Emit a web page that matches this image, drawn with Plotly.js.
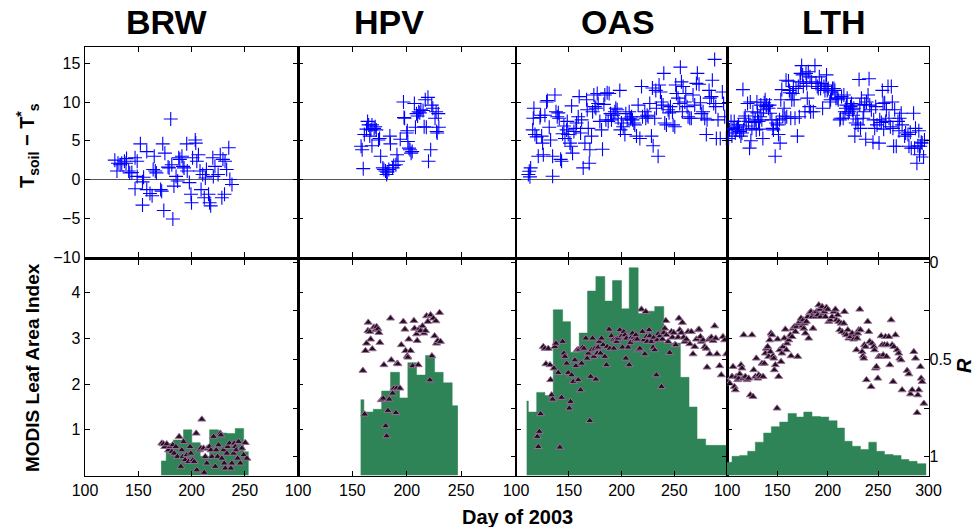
<!DOCTYPE html>
<html><head><meta charset="utf-8">
<script src="https://cdn.plot.ly/plotly-3.0.1.min.js"></script>
<style>html,body{margin:0;padding:0;background:#fff}#chart{width:976px;height:527px}</style>
</head><body><div id="chart"></div><script>
const sites = ['BRW','HPV','OAS','LTH'];

// ---- Top row: T_soil - T*_s ----
const brwTsDay = [128,131,133,134.5,137,138.5,130,139,141,142,144,147,149,147,149,152,154,154,155,158,158,161,163,164,165,166,167,171,172,173,174,175,178,179,180.5,181.5,182.5,183.5,185.5,187,188,189,191,192,193,195.5,196,198,199.5,200,201,203.5,204,205,206.5,208,209,210.5,212,213,214,216,217,218,220,220.5,222,225,227,228.5,229.5,231,231.5,233,235,236,238];
const brwTs = [2.5,2.1,1.9,2.1,2.35,2.1,1.1,2.7,1.1,0.85,0.9,2.8,2.35,-1.2,0.4,4.6,-0.3,-3.3,0.3,3.6,-1.3,-1.8,-2.1,1.3,3.0,1.1,0.85,-1.3,-1.5,4.6,-4.0,3.4,1.6,1.5,7.8,1.9,-5.1,-0.85,0.4,-0.2,2.8,2.6,3.0,1.7,1.5,4.6,1.1,-0.4,-1.9,-3.0,2.8,5.1,4.7,2.35,3.2,1.1,-1.3,0.65,-2.35,0.2,1.3,-1.9,-3.0,-3.4,2.8,0.4,1.7,0.65,3.2,-2.35,2.6,-1.9,2.35,1.3,4.1,0,-0.65];

const hpvTsDay = [160,158,159,161,163,164,165,166,167,168,170,171,172,168,174,175,176,178,179,180.5,181.5,182,183.5,184.5,185,187,188,190,191,192,194,197,197.5,198,200,200.5,201,202,203,204,205,207,208,209,210,211,212,213,215,216,217,218,219.5,220,222,223,224,226,227,227.5,228,229,229.5];
const hpvTs = [1.4,4.3,3.85,5.8,6.5,7.5,7.05,5.6,6.4,7.05,6.6,6.8,6.4,4.35,5.1,5.3,3.0,1.5,1.3,1.1,0.65,0.95,1.3,5.6,4.6,1.5,1.8,1.9,3.2,2.35,5.2,10.0,8.0,7.9,6.0,6.3,4.9,4.05,3.85,3.4,3.6,9.8,6.75,8.5,8.2,8.75,8.6,9.0,8.9,6.8,10.3,6.75,10.6,2.35,3.85,9.6,9.2,7.9,8.75,6.2,6.0,8.5,6.75];

const oasTsDay = [111.7,112.6,113.9,113.2,115.8,117,116.4,118,119.6,121.1,122.7,123.3,124.3,125.2,125.9,127.4,129,129.7,131.5,132.8,134.7,134.7,136.9,137.9,139.1,140.1,141,142.3,143.2,144.2,145.4,146.4,148,148.6,149.5,151.1,152.1,152.7,153.6,154.9,156.8,157.4,159,159.9,161.2,162.2,163.7,165.3,166.9,167.5,168.5,169.4,170,171.6,172.6,173.8,174.8,175.7,177,177.9,179.5,181.1,182,183.3,184.2,185.2,186.4,187.4,188.3,189.6,190.5,192.1,193.7,194.6,195.9,196.8,198.4,199,200,201.6,203.2,204.1,205.4,207.3,208.5,209.5,210.4,211.7,212.6,214.2,215.8,217.4,219,219.9,222.1,223,224.3,225.2,226.8,228.4,229.3,230,231.5,232.5,233.1,234.7,235.6,236.9,237.9,239.4,240.1,241,242.6,244.2,245.1,246.4,248.3,248.9,250.5,251.4,252.1,253.6,255.2,255.8,256.8,257.7,258.4,260,260.9,262.1,263.1,264.7,266.2,267.8,269.4,271,271.9,273.5,274.8,275.7,277.3,278.9,280.4,281.1,283,283.6,285.2,286.1,287.4,288.3,289.3,289.9,291.5,293.6,295.6,296.8,297.8,299.4];
const oasTs = [0.64,1.07,1.5,0.34,6.4,9.2,7.9,5.8,5.5,3.0,8.0,8.3,5.6,4.7,3.2,8.3,10.0,10.2,6.75,5.1,0.43,3.0,10.9,8.75,8.1,8.6,7.9,2.6,2.35,5.9,6.9,5.3,6.4,7.5,5.8,4.7,4.3,9.5,3.4,6.2,6.6,7.3,8.1,10.7,6.0,7.7,1.5,4.7,10.3,9.0,6.6,2.1,3.85,5.6,8.75,10.9,9.4,9.2,11.1,9.8,7.5,6.4,3.9,9.7,10.9,7.7,11.2,7.5,11.1,8.5,7.7,8.3,8.75,9.2,9.0,7.9,11.5,6.4,7.3,6.8,5.8,8.5,7.7,8.75,7.9,8.1,7.7,7.3,7.05,5.6,9.6,5.3,12.0,8.1,8.75,7.9,8.3,8.1,9.8,5.6,11.8,4.35,7.9,11.5,9.2,3.0,12.2,11.3,10.0,9.6,13.7,7.3,7.05,9.0,8.6,9.4,8.75,7.05,6.8,12.2,11.1,10.5,9.8,14.5,12.6,8.75,12.0,10.0,11.1,9.4,8.1,7.9,7.9,10.9,9.6,12.4,13.7,12.3,9.9,8.5,8.75,7.9,5.8,7.7,11.5,10.5,10.7,12.8,9.8,15.5,9.4,5.3,7.7,5.3,11.3,9.8,8.1,5.3];

const lthTsDay = [101.6,102.6,104,104.9,106,107.2,108.2,109.2,110.5,111.5,112.5,113.8,114.8,115.8,116.5,117.1,118.1,119.1,120.4,121.4,122.4,123.1,123.7,124.7,125.7,127,128,129,129.7,130.3,131.3,132.3,132.9,133.6,134.6,135.6,136.2,136.9,137.9,138.9,139.5,141.2,142.2,142.8,144.5,145.5,146.1,147.8,148.8,150.1,151.1,152.1,152.7,153.4,154.4,155.4,156.7,157.7,158.6,159.3,161,161.9,162.6,163.3,164.3,165.2,165.9,166.6,167.5,168.5,169.9,170.8,171.8,172.5,173.1,174.1,175.1,175.8,177.4,178.4,179.1,179.7,180.7,181.7,182.4,183,184,185.7,187.3,188.3,189.6,190.6,191.6,192.9,193.9,194.9,196.2,197.2,198.2,198.8,199.5,200.5,202.1,202.8,203.8,204.8,206.1,207.1,208.1,209.4,210.4,212,212.7,213.7,215.3,216,217,218,218.6,219.3,220.3,221.3,222.6,223.6,224.5,225.2,225.9,226.9,227.8,229.2,230.1,231.1,231.8,232.5,233.4,235.1,235.7,236.7,237.7,238.4,240,241,241.7,243.3,244.9,245.6,246.6,247.6,248.9,250.9,251.6,253.2,254.2,254.9,255.5,256.5,257.5,258.2,259.8,260.8,262.1,263.1,264.1,264.7,265.4,266.4,268,269.7,270.7,271.3,272.9,273.8,276.3,277.3,279.6,280.6,281.9,282.9,285.2,286.2,287.1,288.5,289.5,290.4,291.1,291.8,292.8,293.7,295.1,296];
const lthTs = [5.3,6.4,7.5,5.6,6.6,7.5,6.0,6.5,6.75,7.05,6.2,5.6,6.0,11.6,6.4,7.9,8.2,6.9,9.8,7.5,4.05,10.0,5.0,6.6,8.75,7.35,7.7,6.4,10.0,8.6,7.5,6.5,8.1,9.6,7.7,5.3,9.0,9.9,10.3,9.4,9.6,9.2,9.6,8.55,7.7,6.6,6.4,3.0,7.3,7.05,5.8,7.7,4.7,10.3,11.6,8.2,9.2,7.9,12.8,8.1,12.7,11.5,11.2,7.9,10.3,11.1,12.0,10.3,7.9,11.75,5.6,12.0,8.1,12.6,13.7,14.7,13.5,12.05,8.75,13.7,12.4,10.5,13.9,9.4,13.25,8.75,12.6,8.75,14.7,12.4,12.0,11.75,13.25,11.75,12.4,9.2,12.0,11.5,12.2,13.5,11.5,11.75,10.0,10.3,11.3,11.75,11.75,11.5,10.5,10.5,10.3,7.7,7.9,10.7,7.9,10.9,8.75,9.2,9.6,10.5,8.55,8.75,9.4,9.8,9.0,8.3,9.2,5.6,7.3,7.8,7.05,12.9,9.6,6.6,10.5,7.9,8.75,9.7,5.2,10.0,10.9,13.0,9.6,9.0,4.8,7.7,6.6,9.4,7.05,4.7,7.7,7.35,11.5,9.8,6.5,9.9,7.5,9.0,12.0,7.9,6.8,12.0,10.0,6.6,4.3,9.0,4.3,7.5,6.3,7.9,8.55,7.05,5.6,6.0,5.8,4.3,6.1,4.05,8.55,4.05,6.6,2.1,4.35,6.3,3.2,4.3,4.8,4.7,2.9,5.1];

// ---- Bottom row: MODIS LAI (step bars: edges and values) ----
const brwLaiEdge = [171.5,176.2,183,192.5,200.3,208.2,217,225.4,233.2,241,249,253.6];
const brwLai = [0.32,0.55,0.78,1.0,0.72,0.42,1.0,0.93,0.92,1.03,0.52];
const hpvLaiEdge = [157.6,160.6,169.2,176.9,185.1,193.4,201,209,217.3,225.6,233.5,241.8,247];
const hpvLai = [1.66,1.39,1.45,1.85,2.26,1.7,2.47,2.2,2.63,2.26,2.03,1.53];
const oasLaiEdge = [110.1,111.7,119.6,127.4,135.3,144.2,151.7,159.9,167.8,175.7,184.2,191.5,200,207.3,215.8,223,231.5,240.1,248.3,255.8,264,271.6,279.8,302];
const oasLai = [1.63,1.39,1.82,1.75,3.63,3.37,2.7,3.12,4.04,4.36,3.82,4.27,3.65,4.55,3.55,3.6,3.7,2.9,2.9,2.15,1.5,0.8,0.66];
const lthLaiEdge = [100,105,112.6,120.5,128.1,136.4,144,152.3,160.6,168.9,176.2,184.4,192.7,201,209.3,216.6,224.2,232.5,240.7,248.3,256.3,264.9,272.8,280.5,288.7,297.7];
const lthLai = [0.29,0.42,0.44,0.53,0.73,0.93,1.07,1.17,1.36,1.28,1.39,1.29,1.28,1.2,1.04,0.75,0.64,0.57,0.73,0.53,0.46,0.44,0.35,0.31,0.26];

// ---- Bottom row: R (right axis, reversed) ----
const brwRDay = [172.1,173.7,174.9,176.8,178.4,179.9,181.5,182.4,183.7,185.3,186.8,188.4,190,190.9,191.8,192.5,194,195.6,197.2,198.7,199.4,201.3,202.5,204.4,205,207.5,208.8,209.7,211.3,212,212.9,214.4,215,216.9,218.2,219.1,220.7,222.3,223.2,224.5,225.4,227,227.6,228.5,230.1,230.7,231.7,233.2,233.9,235.7,237,237.9,239.5,240.1,241.1,242,243.3,244.2,245.8,247.3,249,250.5,252];
const brwR = [.931,.935,.949,.935,.966,.949,.974,.94,.983,.949,1.0,.897,1.051,.966,1.0,.923,1.017,.991,1.026,.949,.983,1.017,1.026,.88,1.069,.966,.957,.808,.957,1.082,1.0,1.034,.957,.949,.966,1.0,.897,1.051,.966,1.0,.94,.88,.889,1.009,.966,1.034,1.06,.983,.949,.931,1.06,1.034,.983,.931,.949,.966,1.009,.923,1.034,.957,.991,.928,1.009];
const hpvRDay = [159.7,161.3,162,163,164.6,164.3,166,166.8,168.3,169.8,171.4,172.3,173.5,174.4,175.3,176.6,178.4,179,180.6,181.5,182.7,183.9,185.1,185.8,187,188.2,190,191.3,191.9,190.7,193.7,195,196.8,198.3,199,200.5,201,201.9,203.5,205.4,206.6,207.2,209,209.6,210.6,211.8,212.7,214.5,215.8,217.3,218.2,219.4,221.3,221.9,223.1,224.4,225.6,226.8,227.4,228.6,230.2,231];
const hpvR = [.557,.782,.455,.417,.309,.352,.357,.396,.446,.334,.348,.331,.343,.362,.413,.708,.700,.528,.842,.894,.763,.705,.288,.503,.674,.648,.774,.52,.523,.648,.648,.425,.305,.345,.455,.482,.489,.396,.455,.533,.300,.34,.369,.403,.528,.34,.352,.328,.365,.352,.276,.305,.606,.271,.482,.288,.379,.302,.417,.403,.259,.408];
const oasRDay = [121.1,120.2,122.1,123.3,125.9,127.4,128.4,130.6,132.2,132.8,133.8,134.7,136,136.9,137.9,140.1,141.6,143.2,144.2,145.4,146.4,148,149.5,150.5,151.7,152.7,154.3,155.8,156.8,158,159,159.9,161.2,162.2,163.1,164.4,166.2,167.5,168.5,170,170.7,171.6,172.6,173.8,174.8,175.7,177,177.9,178.9,180.1,181.1,182.6,184.2,185.8,186.4,188.3,189,190.5,192.1,192.7,194.6,195.3,196.8,198.4,200,200.9,202.2,203.2,204.1,204.7,206.3,207.3,208.5,209.5,210.4,211.7,212.6,213.6,214.8,215.8,217.4,218.9,219.9,221.1,222.1,223,223.7,224.3,226.2,226.8,228.4,230,230.6,231.5,233.1,233.8,234.7,236.3,237.9,238.8,240.1,241,242,242.6,244.2,245.7,247.3,248.3,249.5,250.5,251.4,253.6,254.5,255.2,256.8,257.7,258.9,259.9,261.5,263.1,264.7,266.2,267.8,269.4,271,272.6,273.5,274.8,275.7,277.3,278.9,280.4,281.1,283,283.6,285.2,286.8,288.3,289.3,290.5,293,294.6,296.2,297.8,299.4];
const oasR = [.949,.897,.871,.78,.434,.443,.523,.444,.528,.605,.683,.705,.545,.434,.417,.568,.952,.696,.408,.468,.485,.52,.568,.751,.717,.58,.614,.503,.533,.451,.605,.448,.657,.52,.437,.443,.391,.494,.468,.815,.588,.451,.391,.485,.443,.602,.468,.437,.408,.468,.391,.425,.485,.528,.434,.345,.443,.379,.4,.443,.396,.408,.391,.348,.379,.437,.357,.374,.494,.391,.437,.528,.413,.386,.365,.386,.4,.374,.396,.451,.443,.242,.357,.4,.472,.254,.383,.408,.348,.379,.408,.437,.386,.451,.58,.4,.369,.379,.64,.396,.362,.34,.3,.374,.408,.465,.357,.386,.362,.425,.425,.386,.288,.348,.362,.31,.386,.408,.396,.357,.42,.357,.472,.434,.396,.348,.345,.383,.408,.4,.434,.443,.54,.396,.472,.386,.403,.328,.391,.472,.533,.58,.383,.4,.472];
const lthRDay = [100.7,102.6,105,106,107.3,108.3,109.3,110.6,111.6,112.6,113.9,114.9,115.9,116.6,118.2,119.9,121.5,123.2,124.8,125.8,126.5,128.2,129.1,130.5,131.5,133.1,134.8,135.8,137.1,138.1,139.1,140.4,141.4,142.4,143.1,143.7,144.7,145.7,146.4,147,148,149.7,150.3,151.3,152.3,153.6,154.6,155.6,156.9,157.9,158.9,159.6,161.3,162.9,163.6,164.6,165.6,166.9,167.9,168.9,170.2,171.2,172.2,173.5,174.5,175.5,176.2,176.8,177.8,178.8,180.1,181.1,182.1,183.4,184.4,185.4,186.1,187.7,188.7,190.1,191.1,192,192.7,194.4,195.4,196.7,197.7,198.7,200,201,202.6,204.3,205.9,207.6,208.6,209.9,210.9,211.9,213.2,214.2,215.9,216.6,217.5,218.5,219.9,220.9,222.5,224.2,225.8,227.5,228.5,229.1,229.8,230.8,231.8,232.5,234.1,235.1,235.8,236.4,237.4,238.4,239.7,240.7,241.7,243,244,245.7,246.4,247.4,248.3,249.7,250.7,251.7,253,254,255,256.3,257.3,258.3,259,260.6,261.6,262.9,263.9,264.9,265.6,267.2,268.9,270.5,271.5,272.8,273.8,278.8,280.5,282.1,283.8,285.4,287.1,288.7,289.4,290.4,292,292.7,293.7,295.4];
const lthR = [.614,.622,.588,.537,.64,.657,.588,.605,.597,.575,.528,.545,.597,.374,.588,.605,.597,.683,.374,.691,.554,.588,.494,.597,.58,.588,.52,.588,.52,.468,.443,.434,.485,.4,.46,.365,.374,.482,.494,.554,.528,.751,.396,.588,.451,.511,.468,.434,.391,.345,.451,.417,.4,.374,.482,.383,.34,.331,.357,.331,.485,.314,.305,.288,.328,.297,.34,.314,.365,.305,.28,.391,.259,.254,.28,.34,.262,.28,.254,.271,.22,.242,.28,.228,.262,.254,.28,.232,.242,.305,.297,.28,.254,.242,.297,.271,.305,.348,.314,.357,.314,.254,.365,.374,.348,.391,.383,.365,.396,.374,.451,.391,.365,.348,.242,.348,.46,.482,.494,.425,.434,.605,.305,.357,.408,.64,.417,.434,.451,.545,.537,.597,.485,.485,.379,.425,.477,.425,.383,.485,.425,.383,.528,.297,.425,.614,.434,.374,.451,.468,.494,.503,.657,.557,.575,.678,.657,.46,.494,.774,.683,.657,.537,.597,.614,.726];

const tsDays = [brwTsDay, hpvTsDay, oasTsDay, lthTsDay];
const tsVals = [brwTs, hpvTs, oasTs, lthTs];
const laiEdges = [brwLaiEdge, hpvLaiEdge, oasLaiEdge, lthLaiEdge];
const laiVals = [brwLai, hpvLai, oasLai, lthLai];
const rDays = [brwRDay, hpvRDay, oasRDay, lthRDay];
const rVals = [brwR, hpvR, oasR, lthR];

// ---- geometry (pixels) ----
const W = 976, H = 527;
const colL = [85, 298, 516, 727], colR = [298, 515.5, 727, 928.5];
const topRow = [47, 257], botRow = [260, 475.5];
const titleX = [166, 389, 618, 834];
const dX = (a, b) => [a / W, b / W];
const dY = (t, b) => [1 - b / H, 1 - t / H];
const pX = x => x / W, pY = y => 1 - y / H;

const FONT = 'Liberation Sans, Arial, Helvetica, sans-serif';
const tickFont = {family: FONT, size: 16, color: '#000'};
const green = '#2e8456';

const traces = [];
const layout = {
  width: W, height: H, margin: {l: 0, r: 0, t: 0, b: 0},
  paper_bgcolor: '#fff', plot_bgcolor: '#fff', showlegend: false,
  font: {family: FONT, color: '#000'},
  annotations: []
};
const axBase = {showline: true, linecolor: '#000', linewidth: 1.5, ticks: 'inside', ticklen: 5,
  tickwidth: 1, tickcolor: '#000', showgrid: false, zeroline: false, tickfont: tickFont};

for (let i = 0; i < 4; i++) {
  const nT = i + 1, nB = i + 5, nR = i + 9;
  traces.push({type: 'scatter', mode: 'markers', x: tsDays[i], y: tsVals[i],
    xaxis: 'x' + nT, yaxis: 'y' + nT,
    marker: {symbol: 'cross-thin', size: 10, color: '#0000ff', line: {color: '#0000ff', width: 1.1}}});
  const e = laiEdges[i], v = laiVals[i];
  traces.push({type: 'scatter', mode: 'lines', x: e, y: v.concat([v[v.length - 1]]),
    xaxis: 'x' + nB, yaxis: 'y' + nB, line: {shape: 'hv', color: green, width: 0.5},
    fill: 'tozeroy', fillcolor: green});
  traces.push({type: 'scatter', mode: 'markers', x: rDays[i], y: rVals[i],
    xaxis: 'x' + nB, yaxis: 'y' + nR,
    marker: {symbol: 'triangle-up', size: 7, color: '#22101f', line: {color: '#9a6f98', width: 1}}});

  layout['xaxis' + nT] = Object.assign({}, axBase, {domain: dX(colL[i], colR[i]), anchor: 'y' + nT,
    range: [100, 300], tickvals: [150, 200, 250], showticklabels: false, mirror: 'ticks'});
  layout['yaxis' + nT] = Object.assign({}, axBase, {domain: dY(topRow[0], topRow[1]), anchor: 'x' + nT,
    range: [-10, 17.1], tickvals: [-10, -5, 0, 5, 10, 15], showticklabels: i === 0, mirror: 'ticks',
    zeroline: true, zerolinecolor: '#555', zerolinewidth: 1.2});
  layout['xaxis' + nB] = Object.assign({}, axBase, {domain: dX(colL[i], colR[i]), anchor: 'y' + nB,
    range: [100, 300], tickvals: i === 3 ? [100, 150, 200, 250, 300] : [100, 150, 200, 250],
    mirror: 'ticks'});
  layout['yaxis' + nB] = Object.assign({}, axBase, {domain: dY(botRow[0], botRow[1]), anchor: 'x' + nB,
    range: [0, 4.72], tickvals: [1, 2, 3, 4], showticklabels: i === 0, mirror: true});
  layout['yaxis' + nR] = Object.assign({}, axBase, {overlaying: 'y' + nB, anchor: 'x' + nB, side: 'right',
    range: [1.097, -0.012], tickvals: [0, 0.5, 1], showticklabels: i === 3, showline: false,
    minor: {tickvals: [0.25, 0.75], ticks: 'inside', ticklen: 5, tickcolor: '#000', tickwidth: 1, showgrid: false}});

  layout.annotations.push({text: '<b>' + sites[i] + '</b>', xref: 'paper', yref: 'paper',
    x: pX(titleX[i]), y: pY(22), xanchor: 'center', yanchor: 'middle', showarrow: false,
    font: {family: FONT, size: 34, color: '#000'}});
}

layout.annotations.push(
  {text: '<b>T<sub>soil</sub> − T<sup>*</sup><sub>s</sub></b>', xref: 'paper', yref: 'paper',
   x: pX(27), y: pY(146), xanchor: 'center', yanchor: 'middle', textangle: -90, showarrow: false,
   font: {family: FONT, size: 20, color: '#000'}},
  {text: '<b>MODIS Leaf Area Index</b>', xref: 'paper', yref: 'paper',
   x: pX(32), y: pY(368), xanchor: 'center', yanchor: 'middle', textangle: -90, showarrow: false,
   font: {family: FONT, size: 19, color: '#000'}},
  {text: '<b>Day of 2003</b>', xref: 'paper', yref: 'paper',
   x: pX(517), y: pY(517), xanchor: 'center', yanchor: 'middle', showarrow: false,
   font: {family: FONT, size: 20, color: '#000'}},
  {text: '<b><i>R</i></b>', xref: 'paper', yref: 'paper',
   x: pX(964), y: pY(366), xanchor: 'center', yanchor: 'middle', textangle: -90, showarrow: false,
   font: {family: FONT, size: 20, color: '#000'}}
);

Plotly.newPlot('chart', traces, layout, {staticPlot: true, displayModeBar: false});
</script></body></html>
